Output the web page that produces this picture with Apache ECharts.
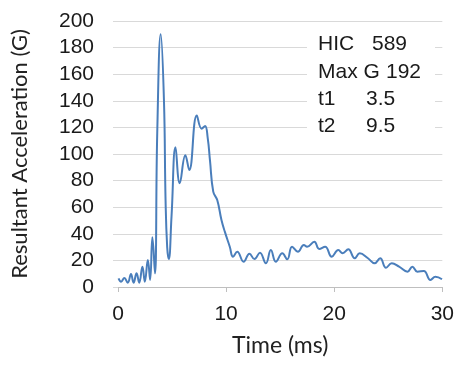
<!DOCTYPE html>
<html><head><meta charset="utf-8">
<script src="https://cdn.jsdelivr.net/npm/echarts@6/dist/echarts.min.js"></script>
<style>html,body{margin:0;padding:0;background:#fff}#c{width:457px;height:365px}</style>
</head><body><div id="c"></div>
<script>
var times = [0.05,0.29,0.59,0.9,1.2,1.44,1.72,1.96,2.26,2.48,2.76,2.97,3.18,3.42,3.63,3.95,4.25,4.4,4.55,4.7,4.95,5.32,5.71,6.23,6.59,7.29,7.74,8.05,8.3,8.51,8.81,9.18,9.57,9.88,10.34,10.64,11.03,11.62,12.16,12.62,13.13,13.68,14.14,14.6,15.2,15.66,16.1,16.64,17.19,17.49,18.16,18.61,19.16,19.77,20.38,20.78,21.3,21.9,22.36,23.12,23.73,24.25,24.79,25.32,26.0,26.78,27.23,27.69,28.29,28.9,29.36,29.97];
var accel = [6.5,4,6.8,3.2,9.8,3.2,10.3,3.2,15.3,4,20.3,5.3,37.4,10.3,116,190,140.6,65,30,21,52.9,105,78,99,88,129,119,121,112,95,71.7,65.4,50.4,41.6,30.3,22.8,26.5,19,25,21,25.8,17.8,27.8,19,25.3,20.8,30.3,26.5,31.6,30.3,34,28.6,30.3,22.8,27.8,25.3,28.3,21.6,25.3,21.6,17.8,21.6,14.5,17.8,15.3,11.5,15.3,11.5,12,5.3,7.7,5.8];
var xTicks = [0,10,20,30];
var yTicks = [0,20,40,60,80,100,120,140,160,180,200];
var annotLabels = ['HIC','Max G','t1','t2'];
var annotValues = ['589','192','3.5','9.5'];
var annotValueX = [372,386,366,366];

var chart = echarts.init(document.getElementById('c'));
var pts = times.map(function(t,i){return [t, accel[i]];});
var gfx = [{type:'rect', left:307, top:31, shape:{width:128,height:110}, style:{fill:'#fff'}, z:10}];
annotLabels.forEach(function(l,i){
  var yc = 45 + i*27.3;
  gfx.push({type:'text', left:318, top:yc-11, z:11, style:{text:l, font:'21px "Liberation Sans", Arial, sans-serif', fill:'#1a1a1a'}});
  gfx.push({type:'text', left:annotValueX[i], top:yc-11, z:11, style:{text:annotValues[i], font:'21px "Liberation Sans", Arial, sans-serif', fill:'#1a1a1a'}});
});
chart.setOption({
  animation:false,
  grid:{left:118, right:10, top:21, bottom:78},
  xAxis:{type:'value', min:xTicks[0], max:xTicks[xTicks.length-1], interval:10,
    name:'Time (ms)', nameLocation:'middle', nameGap:47,
    nameTextStyle:{fontFamily:'Lato', fontSize:23, color:'#222'},
    axisLine:{show:true, lineStyle:{color:'#bfbfbf', width:1}},
    axisTick:{show:true, length:5, lineStyle:{color:'#bfbfbf'}},
    axisLabel:{margin:17, fontFamily:'"Liberation Sans", Arial', fontSize:21, color:'#1a1a1a'},
    splitLine:{show:false}},
  yAxis:{type:'value', min:yTicks[0], max:yTicks[yTicks.length-1], interval:20,
    name:'Resultant Acceleration (G)', nameLocation:'middle', nameGap:87,
    nameTextStyle:{fontFamily:'Lato', fontSize:22, color:'#222'},
    axisLine:{show:false},
    axisTick:{show:true, length:5, lineStyle:{color:'#d9d9d9'}},
    axisLabel:{margin:24, fontFamily:'"Liberation Sans", Arial', fontSize:21, color:'#1a1a1a'},
    splitLine:{show:true, lineStyle:{color:'#d9d9d9', width:1}}},
  series:[{type:'line', data:pts, smooth:0.45, symbol:'none',
    lineStyle:{color:'#4a7ebb', width:2}}],
  graphic:gfx
});
</script></body></html>
